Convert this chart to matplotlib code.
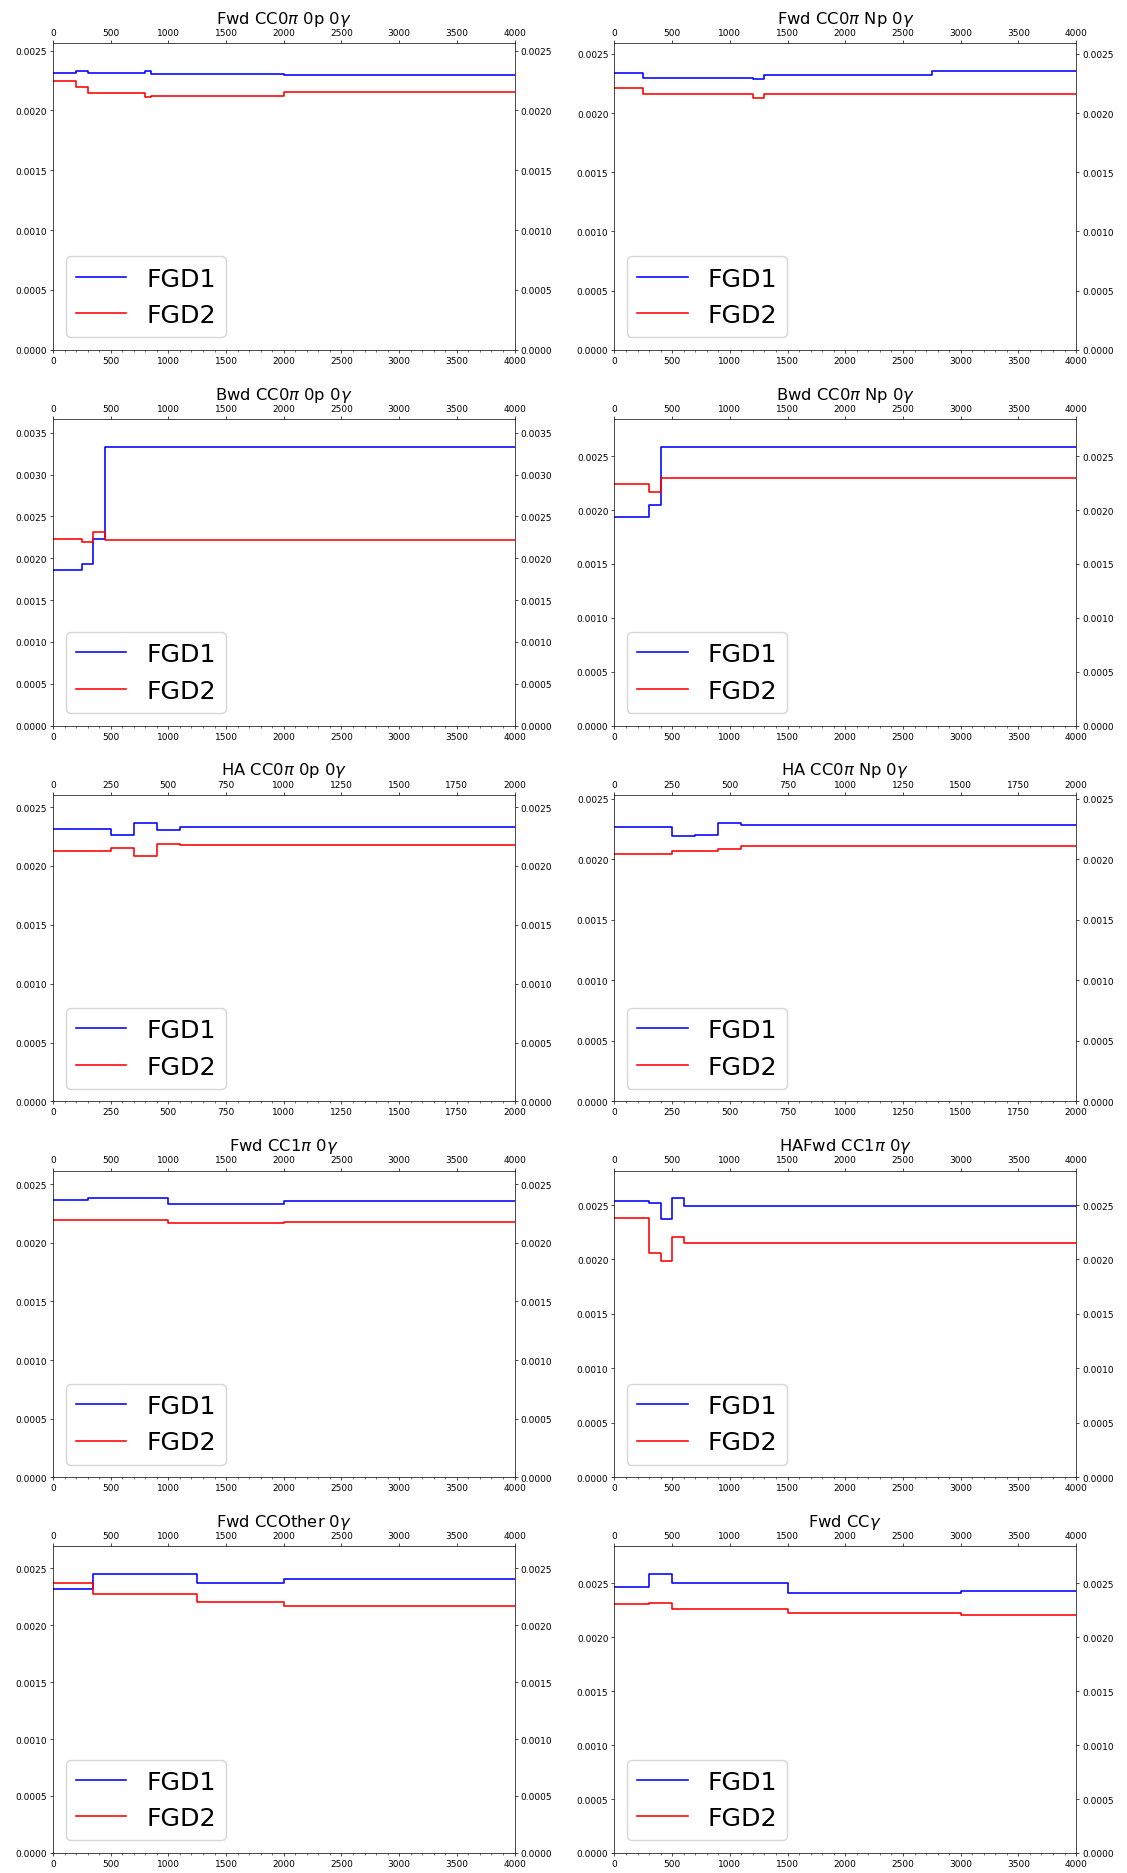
import matplotlib
matplotlib.use("Agg")
import matplotlib.pyplot as plt
from matplotlib.ticker import AutoMinorLocator

# Bin edges and per-bin values for each selection, FGD1 vs FGD2
fwd0p_edges = [0, 200, 300, 800, 850, 2000, 4000]
fwd0p_fgd1 = [0.002308, 0.002325, 0.002308, 0.002328, 0.002303, 0.002297]
fwd0p_fgd2 = [0.002247, 0.002192, 0.002142, 0.002114, 0.002117, 0.002156]

fwdNp_edges = [0, 250, 1200, 1300, 2750, 4000]
fwdNp_fgd1 = [0.002334, 0.002298, 0.002289, 0.002323, 0.002354]
fwdNp_fgd2 = [0.002208, 0.002163, 0.002126, 0.002160, 0.002160]

bwd0p_edges = [0, 250, 350, 450, 4000]
bwd0p_fgd1 = [0.001864, 0.001928, 0.002227, 0.003332]
bwd0p_fgd2 = [0.002235, 0.002195, 0.002311, 0.002223]

bwdNp_edges = [0, 300, 400, 4000]
bwdNp_fgd1 = [0.001932, 0.002043, 0.002586]
bwdNp_fgd2 = [0.002238, 0.002170, 0.002296]

ha0p_edges = [0, 250, 350, 450, 550, 2000]
ha0p_fgd1 = [0.002313, 0.002266, 0.002368, 0.002305, 0.002335]
ha0p_fgd2 = [0.002129, 0.002154, 0.002082, 0.002184, 0.002176]

haNp_edges = [0, 250, 350, 450, 550, 2000]
haNp_fgd1 = [0.002265, 0.002196, 0.002204, 0.002304, 0.002285]
haNp_fgd2 = [0.002044, 0.002066, 0.002072, 0.002086, 0.002113]

cc1pi_edges = [0, 300, 1000, 2000, 4000]
cc1pi_fgd1 = [0.002363, 0.002380, 0.002334, 0.002360]
cc1pi_fgd2 = [0.002194, 0.002197, 0.002166, 0.002183]

hafwd_edges = [0, 300, 400, 500, 600, 4000]
hafwd_fgd1 = [0.002537, 0.002515, 0.002375, 0.002561, 0.002494]
hafwd_fgd2 = [0.002381, 0.002064, 0.001982, 0.002207, 0.002155]

ccother_edges = [0, 350, 1250, 2000, 4000]
ccother_fgd1 = [0.002313, 0.002447, 0.002371, 0.002406]
ccother_fgd2 = [0.002371, 0.002269, 0.002205, 0.002164]

ccgamma_edges = [0, 300, 500, 1500, 3000, 4000]
ccgamma_fgd1 = [0.002466, 0.002586, 0.002500, 0.002410, 0.002426]
ccgamma_fgd2 = [0.002309, 0.002318, 0.002265, 0.002225, 0.002207]

titles = [
    r"Fwd CC0$\pi$ 0p 0$\gamma$", r"Fwd CC0$\pi$ Np 0$\gamma$",
    r"Bwd CC0$\pi$ 0p 0$\gamma$", r"Bwd CC0$\pi$ Np 0$\gamma$",
    r"HA CC0$\pi$ 0p 0$\gamma$", r"HA CC0$\pi$ Np 0$\gamma$",
    r"Fwd CC1$\pi$ 0$\gamma$", r"HAFwd CC1$\pi$ 0$\gamma$",
    r"Fwd CCOther 0$\gamma$", r"Fwd CC$\gamma$",
]
panels = [
    (fwd0p_edges, fwd0p_fgd1, fwd0p_fgd2),
    (fwdNp_edges, fwdNp_fgd1, fwdNp_fgd2),
    (bwd0p_edges, bwd0p_fgd1, bwd0p_fgd2),
    (bwdNp_edges, bwdNp_fgd1, bwdNp_fgd2),
    (ha0p_edges, ha0p_fgd1, ha0p_fgd2),
    (haNp_edges, haNp_fgd1, haNp_fgd2),
    (cc1pi_edges, cc1pi_fgd1, cc1pi_fgd2),
    (hafwd_edges, hafwd_fgd1, hafwd_fgd2),
    (ccother_edges, ccother_fgd1, ccother_fgd2),
    (ccgamma_edges, ccgamma_fgd1, ccgamma_fgd2),
]

s = 0.626  # point scale
plt.rcParams["axes.linewidth"] = 0.8 * s

fig, axes = plt.subplots(5, 2, figsize=(11.27, 18.74), dpi=100)
fig.subplots_adjust(left=0.047, right=0.9548, top=0.9764, bottom=0.0107,
                    wspace=0.2165, hspace=0.2256)

for ax, title, (edges, f1, f2) in zip(axes.flat, titles, panels):
    ax.step(edges, list(f1) + [f1[-1]], where="post", color="blue",
            lw=1.15, label="FGD1")
    ax.step(edges, list(f2) + [f2[-1]], where="post", color="red",
            lw=1.15, label="FGD2")
    ax.set_xlim(edges[0], edges[-1])
    ax.set_ylim(0, 1.1 * max(max(f1), max(f2)))
    ax.xaxis.set_minor_locator(AutoMinorLocator())
    ax.tick_params(which="major", top=True, labeltop=True, right=True,
                   labelright=True, labelsize=10.3 * s, length=3.5 * s,
                   width=0.8 * s, pad=3.5 * s)
    ax.tick_params(which="minor", top=False, left=False, right=False,
                   length=2 * s, width=0.6 * s)
    ax.set_title(title, fontsize=18.8 * s, pad=6 * s)
    ax.legend(loc="lower left", fontsize=29 * s)

fig.savefig("out.png", dpi=100)
